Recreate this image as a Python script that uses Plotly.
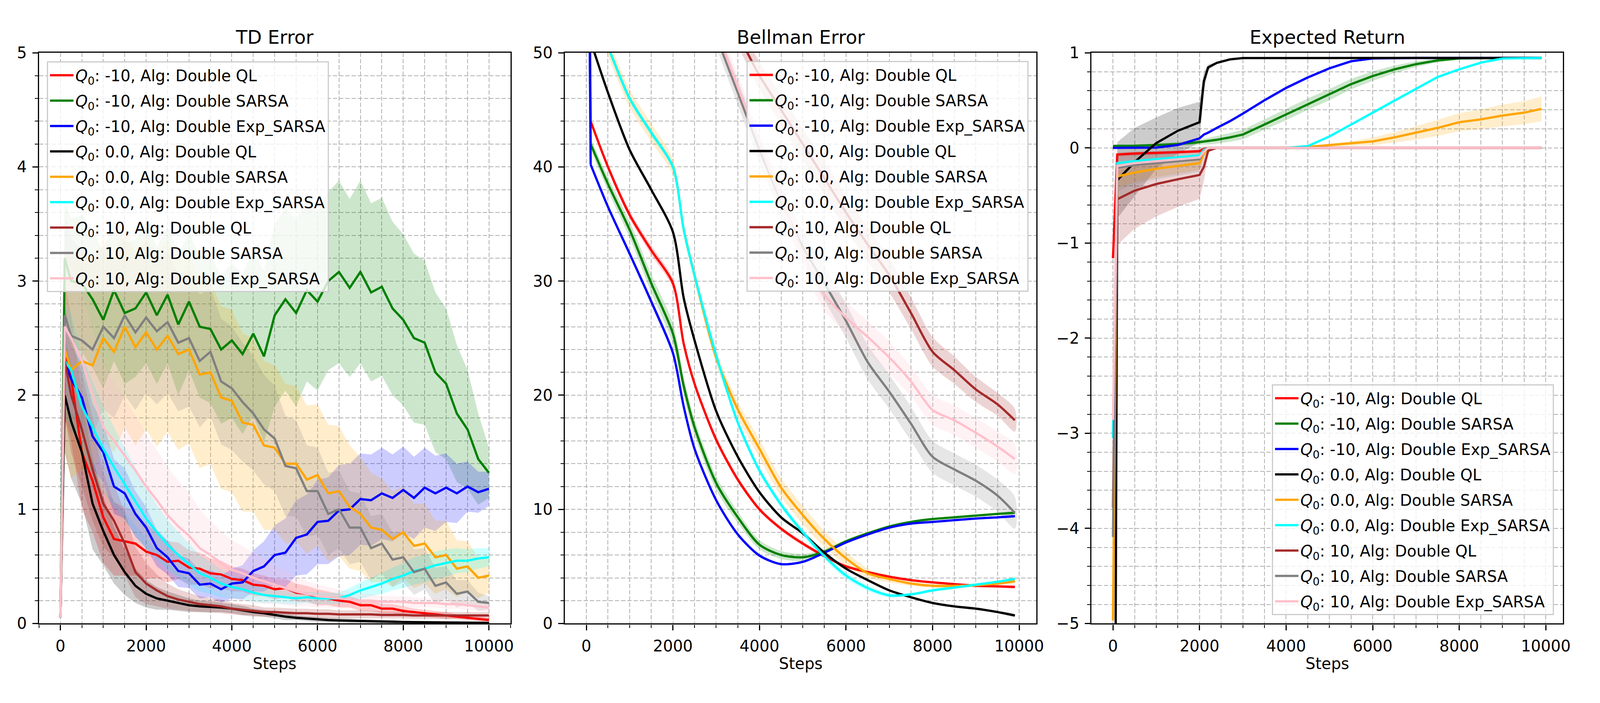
import numpy as np
import plotly.graph_objects as go

# ---------------- data ----------------
labels = [
    "<i>Q</i><sub>0</sub>: -10, Alg: Double QL",
    "<i>Q</i><sub>0</sub>: -10, Alg: Double SARSA",
    "<i>Q</i><sub>0</sub>: -10, Alg: Double Exp_SARSA",
    "<i>Q</i><sub>0</sub>: 0.0, Alg: Double QL",
    "<i>Q</i><sub>0</sub>: 0.0, Alg: Double SARSA",
    "<i>Q</i><sub>0</sub>: 0.0, Alg: Double Exp_SARSA",
    "<i>Q</i><sub>0</sub>: 10, Alg: Double QL",
    "<i>Q</i><sub>0</sub>: 10, Alg: Double SARSA",
    "<i>Q</i><sub>0</sub>: 10, Alg: Double Exp_SARSA",
]
colors = ["#ff0000", "#008000", "#0000ff", "#000000", "#ffa500",
          "#00ffff", "#a52a2a", "#808080", "#ffc0cb"]

# ---- TD Error ----
td_steps = [0, 100, 250, 500, 750, 1000, 1250, 1500, 1750, 2000, 2250, 2500, 2750,
            3000, 3250, 3500, 3750, 4000, 4250, 4500, 4750, 5000, 5250, 5500, 5750,
            6000, 6250, 6500, 6750, 7000, 7250, 7500, 7750, 8000, 8250, 8500, 8750,
            9000, 9250, 9500, 9750, 10000]
td_red = [0.05, 2.40, 2.15, 1.50, 1.25, 0.93, 0.74, 0.72, 0.70, 0.63, 0.60, 0.54, 0.55, 0.49,
          0.48, 0.44, 0.43, 0.39, 0.38, 0.34, 0.33, 0.30, 0.31, 0.27, 0.26, 0.23, 0.22, 0.20,
          0.19, 0.16, 0.16, 0.13, 0.13, 0.11, 0.10, 0.09, 0.08, 0.07, 0.06, 0.05, 0.04, 0.03]
td_green = [0.05, 3.20, 3.00, 2.98, 2.84, 2.66, 2.92, 2.72, 2.76, 2.90, 2.70, 2.88, 2.62, 2.82,
            2.60, 2.58, 2.40, 2.48, 2.36, 2.54, 2.34, 2.70, 2.84, 2.72, 2.92, 2.82, 3.00, 3.08,
            2.94, 3.08, 2.90, 2.95, 2.76, 2.66, 2.50, 2.46, 2.20, 2.10, 1.84, 1.70, 1.44, 1.32]
td_blue = [0.05, 2.30, 2.14, 1.98, 1.64, 1.50, 1.20, 1.14, 0.96, 0.84, 0.66, 0.58, 0.46, 0.44,
           0.34, 0.35, 0.30, 0.35, 0.36, 0.46, 0.50, 0.60, 0.62, 0.75, 0.78, 0.89, 0.90, 0.99,
           1.00, 1.09, 1.08, 1.14, 1.10, 1.17, 1.10, 1.19, 1.14, 1.19, 1.14, 1.20, 1.15, 1.18]
td_black = [0.05, 2.00, 1.77, 1.50, 1.05, 0.81, 0.60, 0.45, 0.33, 0.26, 0.22, 0.20, 0.18, 0.16,
            0.15, 0.145, 0.14, 0.13, 0.115, 0.10, 0.09, 0.075, 0.06, 0.05, 0.042, 0.035, 0.03,
            0.027, 0.024, 0.021, 0.019, 0.017, 0.015, 0.013, 0.012, 0.011, 0.010, 0.009, 0.008,
            0.007, 0.006, 0.005]
td_orange = [0.05, 2.40, 2.22, 2.30, 2.26, 2.50, 2.38, 2.60, 2.42, 2.55, 2.40, 2.52, 2.36, 2.40,
             2.18, 2.20, 1.98, 1.95, 1.76, 1.74, 1.56, 1.54, 1.40, 1.40, 1.26, 1.30, 1.14, 1.16,
             1.02, 0.96, 0.84, 0.82, 0.74, 0.80, 0.68, 0.70, 0.58, 0.60, 0.48, 0.50, 0.40, 0.42]
td_cyan = [0.08, 2.30, 2.22, 1.90, 1.72, 1.53, 1.37, 1.22, 1.07, 0.92, 0.80, 0.69, 0.60, 0.52,
           0.44, 0.40, 0.35, 0.32, 0.30, 0.27, 0.25, 0.24, 0.23, 0.22, 0.23, 0.22, 0.22, 0.22,
           0.25, 0.29, 0.32, 0.35, 0.39, 0.42, 0.46, 0.48, 0.51, 0.53, 0.55, 0.55, 0.57, 0.58]
td_brown = [0.05, 2.30, 2.00, 1.70, 1.35, 1.05, 0.90, 0.70, 0.45, 0.35, 0.29, 0.24, 0.21, 0.19,
            0.17, 0.16, 0.15, 0.13, 0.12, 0.11, 0.10, 0.10, 0.095, 0.09, 0.09, 0.085, 0.085,
            0.08, 0.08, 0.08, 0.08, 0.075, 0.075, 0.075, 0.07, 0.07, 0.07, 0.07, 0.07, 0.07,
            0.07, 0.07]
td_gray = [0.05, 2.70, 2.52, 2.48, 2.40, 2.60, 2.50, 2.70, 2.55, 2.68, 2.56, 2.64, 2.46, 2.50,
           2.30, 2.38, 2.12, 2.06, 1.94, 1.84, 1.70, 1.62, 1.38, 1.36, 1.16, 1.16, 0.96, 1.00,
           0.84, 0.84, 0.66, 0.70, 0.56, 0.58, 0.45, 0.48, 0.33, 0.36, 0.26, 0.28, 0.19, 0.18]
td_pink = [0.05, 2.60, 2.50, 2.30, 2.00, 1.72, 1.60, 1.47, 1.34, 1.20, 1.08, 0.95, 0.85, 0.77,
           0.66, 0.60, 0.53, 0.47, 0.44, 0.40, 0.37, 0.34, 0.31, 0.28, 0.26, 0.24, 0.23, 0.22,
           0.21, 0.20, 0.20, 0.19, 0.19, 0.19, 0.18, 0.18, 0.18, 0.17, 0.17, 0.16, 0.15, 0.14]

td_std_red = [0.0, 0.6, 0.55, 0.5, 0.45, 0.4, 0.32, 0.3, 0.28, 0.24, 0.2, 0.18, 0.16, 0.15, 0.14,
              0.13, 0.12, 0.11, 0.1, 0.1, 0.09, 0.09, 0.08, 0.08, 0.07, 0.07, 0.06, 0.06, 0.05,
              0.05, 0.05, 0.04, 0.04, 0.04, 0.03, 0.03, 0.03, 0.03, 0.02, 0.02, 0.02, 0.02]
td_std_green = [0.0, 0.5, 0.55, 0.6, 0.6, 0.6, 0.62, 0.62, 0.6, 0.62, 0.6, 0.6, 0.62, 0.6, 0.62,
                0.65, 0.65, 0.68, 0.7, 0.72, 0.75, 0.8, 0.8, 0.82, 0.8, 0.78, 0.78, 0.8, 0.78,
                0.8, 0.78, 0.78, 0.76, 0.75, 0.74, 0.72, 0.7, 0.66, 0.6, 0.52, 0.4, 0.22]
td_std_blue = [0.0, 0.3, 0.3, 0.3, 0.28, 0.26, 0.24, 0.22, 0.2, 0.18, 0.16, 0.15, 0.14, 0.13,
               0.12, 0.12, 0.12, 0.13, 0.15, 0.18, 0.22, 0.26, 0.3, 0.33, 0.35, 0.37, 0.38, 0.4,
               0.4, 0.4, 0.4, 0.4, 0.38, 0.38, 0.36, 0.35, 0.33, 0.3, 0.26, 0.22, 0.18, 0.15]
td_std_black = [0.0, 0.5, 0.5, 0.45, 0.4, 0.3, 0.25, 0.2, 0.15, 0.12, 0.1, 0.08, 0.07, 0.06,
                0.05, 0.05, 0.04, 0.04, 0.04, 0.03, 0.03, 0.03, 0.03, 0.02, 0.02, 0.02, 0.02,
                0.02, 0.02, 0.015, 0.015, 0.015, 0.015, 0.01, 0.01, 0.01, 0.01, 0.01, 0.01,
                0.01, 0.01, 0.01]
td_std_orange = [0.0, 0.9, 0.95, 0.95, 0.9, 0.9, 0.88, 0.88, 0.86, 0.85, 0.85, 0.84, 0.84, 0.82,
                 0.82, 0.8, 0.8, 0.8, 0.78, 0.76, 0.74, 0.72, 0.7, 0.68, 0.65, 0.62, 0.6, 0.57,
                 0.54, 0.5, 0.48, 0.45, 0.42, 0.4, 0.37, 0.35, 0.32, 0.3, 0.25, 0.22, 0.18, 0.15]
td_std_cyan = [0.0, 0.5, 0.5, 0.45, 0.4, 0.38, 0.35, 0.32, 0.3, 0.27, 0.24, 0.22, 0.2, 0.18,
               0.16, 0.14, 0.12, 0.1, 0.09, 0.08, 0.07, 0.06, 0.06, 0.05, 0.05, 0.05, 0.05, 0.05,
               0.06, 0.07, 0.08, 0.09, 0.1, 0.11, 0.12, 0.12, 0.12, 0.12, 0.11, 0.1, 0.09, 0.08]
td_std_brown = [0.0, 0.5, 0.5, 0.5, 0.45, 0.38, 0.32, 0.28, 0.22, 0.18, 0.14, 0.11, 0.09, 0.08,
                0.07, 0.06, 0.06, 0.05, 0.05, 0.05, 0.04, 0.04, 0.04, 0.04, 0.04, 0.04, 0.04,
                0.035, 0.035, 0.035, 0.035, 0.03, 0.03, 0.03, 0.03, 0.03, 0.03, 0.03, 0.03,
                0.03, 0.03, 0.03]
td_std_gray = [0.0, 0.9, 0.85, 0.8, 0.75, 0.72, 0.7, 0.7, 0.68, 0.66, 0.64, 0.62, 0.6, 0.6,
               0.58, 0.56, 0.55, 0.54, 0.52, 0.5, 0.48, 0.46, 0.44, 0.42, 0.4, 0.38, 0.36, 0.34,
               0.32, 0.3, 0.28, 0.26, 0.24, 0.22, 0.2, 0.18, 0.16, 0.14, 0.12, 0.1, 0.08, 0.06]
td_std_pink = [0.0, 0.7, 0.65, 0.6, 0.58, 0.55, 0.52, 0.5, 0.48, 0.46, 0.44, 0.42, 0.4, 0.38,
               0.34, 0.3, 0.28, 0.26, 0.24, 0.22, 0.2, 0.17, 0.15, 0.13, 0.11, 0.1, 0.09, 0.08,
               0.07, 0.06, 0.06, 0.05, 0.05, 0.05, 0.05, 0.04, 0.04, 0.04, 0.04, 0.04, 0.04, 0.04]

# ---- Bellman Error ----
be_steps = [0, 100, 500, 1000, 1500, 2000, 2250, 2500, 3000, 3500, 4000, 4500, 5000, 5500,
            6000, 6500, 7000, 7500, 8000, 8500, 9000, 9500, 9900]
be_red = [90, 44, 40, 35.8, 32.7, 29.8, 24.5, 21.0, 16.1, 12.6, 10.0, 8.3, 7.0, 5.9, 5.0, 4.5,
          4.1, 3.8, 3.6, 3.45, 3.3, 3.25, 3.2]
be_green = [90, 42, 38.5, 34.5, 29.8, 25.4, 20.8, 17.2, 12.3, 9.3, 6.9, 6.0, 5.8, 6.3, 7.2,
            7.9, 8.5, 8.9, 9.15, 9.3, 9.45, 9.6, 9.7]
be_blue = [90, 40.2, 36.5, 32.4, 28.2, 23.7, 19.0, 15.3, 10.8, 7.8, 5.95, 5.2, 5.4, 6.2, 7.1,
           7.8, 8.4, 8.75, 8.9, 9.05, 9.2, 9.3, 9.4]
be_black = [90, 51, 46.5, 41.5, 38, 34.3, 28.5, 24.8, 18.6, 14.6, 11.5, 9.3, 7.9, 6.2, 4.8,
            3.8, 2.9, 2.3, 1.8, 1.5, 1.3, 1.0, 0.7]
be_orange = [90, 54, 50.5, 46.0, 43, 40.0, 34.5, 30.5, 23.3, 18.75, 15.3, 11.9, 9.5, 7.4, 5.7,
             4.4, 3.9, 3.5, 3.3, 3.3, 3.35, 3.5, 3.7]
be_cyan = [90, 54, 50.5, 46.0, 43, 40.0, 34.5, 30.5, 23.5, 17.6, 13.4, 10.4, 8.0, 5.9, 4.2,
           3.1, 2.46, 2.55, 2.9, 3.15, 3.4, 3.65, 3.9]
be_brown = [120, 85, 80, 74, 68, 63, 60, 58, 54, 51.5, 48.0, 45.0, 42.0, 39.0, 36.0, 33.2,
            30.5, 27.2, 23.8, 22.2, 20.5, 19.2, 17.8]
be_gray = [120, 85, 80, 74, 68, 62, 59, 57, 51.5, 46.5, 41.5, 37, 33, 29.8, 26.5, 22.9, 20.3,
           17.5, 14.6, 13.5, 12.5, 11.2, 9.7]
be_pink = [120, 85, 80, 74, 68, 62, 59, 57, 52, 47, 42, 37.2, 32.5, 28.8, 26.8, 25.1, 23.3,
           21.2, 18.7, 17.8, 16.7, 15.5, 14.4]

be_std_red = [0, 0.3, 0.3, 0.35, 0.4, 0.4, 0.35, 0.3, 0.3, 0.25, 0.2, 0.2, 0.2, 0.15, 0.15,
              0.1, 0.1, 0.1, 0.1, 0.1, 0.1, 0.1, 0.1]
be_std_green = [0, 0.5, 0.6, 0.7, 0.8, 0.9, 0.8, 0.7, 0.6, 0.5, 0.4, 0.35, 0.3, 0.2, 0.15,
                0.1, 0.1, 0.1, 0.1, 0.1, 0.1, 0.1, 0.1]
be_std_blue = [0, 0.2, 0.2, 0.25, 0.3, 0.3, 0.3, 0.25, 0.2, 0.15, 0.15, 0.1, 0.1, 0.1, 0.1,
               0.1, 0.1, 0.1, 0.1, 0.1, 0.1, 0.1, 0.1]
be_std_black = [0, 0.2, 0.2, 0.2, 0.2, 0.2, 0.2, 0.2, 0.2, 0.15, 0.15, 0.15, 0.1, 0.1, 0.1,
                0.1, 0.1, 0.1, 0.1, 0.1, 0.1, 0.1, 0.1]
be_std_orange = [0, 0.8, 0.8, 0.8, 0.8, 0.7, 0.6, 0.6, 0.6, 0.7, 0.8, 0.8, 0.8, 0.7, 0.6, 0.4,
                 0.3, 0.2, 0.15, 0.15, 0.15, 0.15, 0.15]
be_std_cyan = [0, 0.3, 0.3, 0.3, 0.3, 0.3, 0.3, 0.3, 0.3, 0.3, 0.3, 0.3, 0.3, 0.3, 0.3, 0.25,
               0.2, 0.15, 0.15, 0.15, 0.15, 0.15, 0.15]
be_std_brown = [0, 1, 1, 1, 1, 1, 1, 1, 1, 1, 1.2, 1.3, 1.4, 1.5, 1.5, 1.5, 1.5, 1.4, 1.3, 1.2,
                1.1, 1.0, 1.0]
be_std_gray = [0, 1, 1, 1, 1, 1, 1, 1, 1, 1.1, 1.2, 1.3, 1.4, 1.5, 1.5, 1.5, 1.5, 1.5, 1.4,
               1.4, 1.4, 1.4, 1.4]
be_std_pink = [0, 1, 1, 1, 1, 1, 1, 1, 1, 1.1, 1.2, 1.3, 1.3, 1.4, 1.4, 1.4, 1.4, 1.3, 1.3,
               1.3, 1.3, 1.3, 1.3]

# ---- Expected Return ----
er_steps = [0, 100, 500, 1000, 1500, 2000, 2100, 2200, 2400, 2700, 3000, 3500, 4000, 4500,
            5000, 5500, 6000, 6500, 7000, 7500, 8000, 8500, 9000, 9500, 9900]
er_red = [-1.16, -0.07, -0.06, -0.055, -0.045, -0.035, -0.01, 0.0, 0.0, 0.0, 0.0, 0.0, 0.0,
          0.0, 0.0, 0.0, 0.0, 0.0, 0.0, 0.0, 0.0, 0.0, 0.0, 0.0, 0.0]
er_green = [0.02, 0.02, 0.022, 0.03, 0.04, 0.06, 0.065, 0.07, 0.085, 0.11, 0.14, 0.245, 0.35,
            0.46, 0.56, 0.67, 0.755, 0.825, 0.88, 0.92, 0.94, 0.945, 0.945, 0.945, 0.945]
er_blue = [0.0, 0.0, 0.0, 0.003, 0.03, 0.10, 0.14, 0.16, 0.21, 0.28, 0.36, 0.50, 0.63, 0.74,
           0.836, 0.91, 0.94, 0.945, 0.945, 0.945, 0.945, 0.945, 0.945, 0.945, 0.945]
er_black = [-13.0, -0.34, -0.15, 0.05, 0.18, 0.27, 0.70, 0.846, 0.894, 0.93, 0.944, 0.945,
            0.945, 0.945, 0.945, 0.945, 0.945, 0.945, 0.945, 0.945, 0.945, 0.945, 0.945,
            0.945, 0.945]
er_orange = [-4.97, -0.30, -0.26, -0.22, -0.19, -0.16, -0.06, 0.0, 0.0, 0.0, 0.0, 0.0, 0.0,
             0.01, 0.03, 0.045, 0.068, 0.11, 0.157, 0.21, 0.27, 0.30, 0.34, 0.37, 0.41]
er_cyan = [-3.05, -0.16, -0.14, -0.12, -0.10, -0.08, -0.02, 0.0, 0.0, 0.0, 0.0, 0.0, 0.0,
           0.018, 0.12, 0.245, 0.37, 0.50, 0.62, 0.745, 0.826, 0.896, 0.94, 0.945, 0.945]
er_brown = [-3.78, -0.54, -0.45, -0.38, -0.33, -0.285, -0.2, -0.03, 0.0, 0.0, 0.0, 0.0, 0.0,
            0.0, 0.0, 0.0, 0.0, 0.0, 0.0, 0.0, 0.0, 0.0, 0.0, 0.0, 0.0]
er_gray = [-4.09, -0.21, -0.18, -0.16, -0.14, -0.12, -0.03, 0.0, 0.0, 0.0, 0.0, 0.0, 0.0, 0.0,
           0.0, 0.0, 0.0, 0.0, 0.0, 0.0, 0.0, 0.0, 0.0, 0.0, 0.0]
er_pink = [-2.86, -0.19, -0.16, -0.14, -0.12, -0.10, -0.04, 0.0, 0.0, 0.0, 0.0, 0.0, 0.0, 0.0,
           0.0, 0.0, 0.0, 0.0, 0.0, 0.0, 0.0, 0.0, 0.0, 0.0, 0.0]

er_std_red = [0.0, 0.02, 0.02, 0.02, 0.02, 0.02, 0.01, 0, 0, 0, 0, 0, 0, 0, 0, 0, 0, 0, 0, 0,
              0, 0, 0, 0, 0]
er_std_green = [0, 0.01, 0.01, 0.015, 0.02, 0.03, 0.03, 0.035, 0.04, 0.045, 0.05, 0.055, 0.06,
                0.06, 0.06, 0.055, 0.05, 0.04, 0.03, 0.02, 0.01, 0.005, 0, 0, 0]
er_std_blue = [0, 0, 0, 0, 0.005, 0.01, 0.01, 0.01, 0.015, 0.015, 0.015, 0.015, 0.015, 0.015,
               0.01, 0.01, 0.005, 0, 0, 0, 0, 0, 0, 0, 0]
er_std_black = [0, 0.4, 0.36, 0.27, 0.24, 0.215, 0.1, 0.03, 0.01, 0.005, 0, 0, 0, 0, 0, 0, 0,
                0, 0, 0, 0, 0, 0, 0, 0]
er_std_orange = [0, 0.12, 0.1, 0.09, 0.08, 0.07, 0.03, 0, 0, 0, 0, 0, 0, 0.005, 0.015, 0.025,
                 0.04, 0.055, 0.07, 0.085, 0.095, 0.105, 0.115, 0.12, 0.13]
er_std_cyan = [0, 0.02, 0.02, 0.02, 0.02, 0.02, 0.01, 0, 0, 0, 0, 0, 0, 0.005, 0.01, 0.012,
               0.015, 0.015, 0.015, 0.012, 0.01, 0.008, 0.005, 0, 0]
er_std_brown = [0, 0.48, 0.4, 0.34, 0.29, 0.25, 0.15, 0.02, 0, 0, 0, 0, 0, 0, 0, 0, 0, 0, 0,
                0, 0, 0, 0, 0, 0]
er_std_gray = [0, 0.25, 0.2, 0.17, 0.15, 0.13, 0.05, 0, 0, 0, 0, 0, 0, 0, 0, 0, 0, 0, 0, 0, 0,
               0, 0, 0, 0]
er_std_pink = [3.33, 0.05, 0.04, 0.03, 0.03, 0.03, 0.01, 0, 0, 0, 0, 0, 0, 0, 0, 0, 0, 0, 0,
               0, 0, 0, 0, 0, 0]

panel_titles = ["TD Error", "Bellman Error", "Expected Return"]
x_title = "Steps"

panels = [
    (td_steps,
     [td_red, td_green, td_blue, td_black, td_orange, td_cyan, td_brown, td_gray, td_pink],
     [td_std_red, td_std_green, td_std_blue, td_std_black, td_std_orange, td_std_cyan,
      td_std_brown, td_std_gray, td_std_pink]),
    (be_steps,
     [be_red, be_green, be_blue, be_black, be_orange, be_cyan, be_brown, be_gray, be_pink],
     [be_std_red, be_std_green, be_std_blue, be_std_black, be_std_orange, be_std_cyan,
      be_std_brown, be_std_gray, be_std_pink]),
    (er_steps,
     [er_red, er_green, er_blue, er_black, er_orange, er_cyan, er_brown, er_gray, er_pink],
     [er_std_red, er_std_green, er_std_blue, er_std_black, er_std_orange, er_std_cyan,
      er_std_brown, er_std_gray, er_std_pink]),
]
# the Bellman-error curves are smooth: draw them as splines from step 100 onwards
smooth_panel = [False, True, False]

# ---------------- figure ----------------
# the visible browser area is about 4090 x 1800 css px, so the figure is sized to fit it
W, H = 4070, 1780
RW, RH = 4410.0, 1800.0          # reference geometry (pixels measured on the reference)
FONT = "DejaVu Sans"
FS = 40
LW = 5.8
fig = go.Figure()


def rgba(hex_color, a):
    h = hex_color.lstrip("#")
    r, g, b = int(h[0:2], 16), int(h[2:4], 16), int(h[4:6], 16)
    return f"rgba({r},{g},{b},{a})"


legend_names = ["legend", "legend2", "legend3"]
for p, (steps, means, stds) in enumerate(panels):
    xa = "x" if p == 0 else f"x{p + 1}"
    ya = "y" if p == 0 else f"y{p + 1}"
    smooth = smooth_panel[p]
    start = 1 if smooth else 0
    xs = list(steps)[start:]
    shape = "spline" if smooth else "linear"
    for i in range(9):
        m = np.array(means[i], dtype=float)[start:]
        s = np.array(stds[i], dtype=float)[start:]
        up = m + s
        lo = m - s
        fig.add_trace(go.Scatter(
            x=xs + xs[::-1], y=list(up) + list(lo[::-1]),
            xaxis=xa, yaxis=ya, mode="lines", fill="toself",
            fillcolor=rgba(colors[i], 0.2),
            line=dict(width=0, shape=shape, smoothing=0.8),
            hoverinfo="skip", showlegend=False))
    for i in range(9):
        if smooth:
            # first segment (step 0 -> 100) is a straight drop
            fig.add_trace(go.Scatter(
                x=list(steps)[:2], y=list(means[i])[:2], xaxis=xa, yaxis=ya, mode="lines",
                line=dict(color=colors[i], width=LW), hoverinfo="skip",
                showlegend=False, legendgroup=f"p{p}_{i}", legend=legend_names[p]))
        fig.add_trace(go.Scatter(
            x=xs, y=list(means[i])[start:], xaxis=xa, yaxis=ya, mode="lines",
            line=dict(color=colors[i], width=LW, shape=shape, smoothing=0.8),
            name=labels[i], legend=legend_names[p],
            legendgroup=f"p{p}_{i}", showlegend=True))

xdom = [(100, 1414), (1566, 2880), (3034, 4348)]
ytop, ybot = 108, 1625
ydom = [1 - ybot / RH, 1 - ytop / RH]
xranges = [[-500, 10500], [-495, 10395], [-495, 10395]]
yranges = [[0, 5], [0, 50], [-5, 1]]
ydticks = [1, 10, 1]
yminor = [0.2, 2, 0.2]

GRID = "#b0b0b0"
DASH = "11px,5px"
layout = dict(
    width=W, height=H, margin=dict(l=0, r=0, t=0, b=0),
    paper_bgcolor="white", plot_bgcolor="white",
    font=dict(family=FONT, size=FS, color="black"),
    showlegend=True,
)
for p in range(3):
    xk = "xaxis" if p == 0 else f"xaxis{p + 1}"
    yk = "yaxis" if p == 0 else f"yaxis{p + 1}"
    anchor_y = "y" if p == 0 else f"y{p + 1}"
    anchor_x = "x" if p == 0 else f"x{p + 1}"
    common = dict(
        showline=True, mirror=True, linecolor="black", linewidth=3.2,
        ticks="outside", ticklen=14, tickwidth=3.2, tickcolor="black",
        showgrid=True, gridcolor=GRID, gridwidth=2.4, griddash=DASH,
        zeroline=False, ticklabelstandoff=6,
        tickfont=dict(family=FONT, size=FS, color="black"),
    )
    layout[xk] = dict(
        common, domain=[xdom[p][0] / RW, xdom[p][1] / RW], anchor=anchor_y,
        range=xranges[p], tick0=0, dtick=2000, tickformat="d",
        minor=dict(dtick=500, tick0=0, ticks="outside", ticklen=8, tickwidth=2.4,
                   tickcolor="black", showgrid=True, gridcolor=GRID, gridwidth=2.4,
                   griddash=DASH),
    )
    layout[yk] = dict(
        common, domain=ydom, anchor=anchor_x,
        range=yranges[p], tick0=0, dtick=ydticks[p],
        minor=dict(dtick=yminor[p], tick0=0, ticks="outside", ticklen=8, tickwidth=2.4,
                   tickcolor="black", showgrid=True, gridcolor=GRID, gridwidth=2.4,
                   griddash=DASH),
    )

leg_common = dict(
    bgcolor="rgba(255,255,255,0.8)", bordercolor="#cccccc", borderwidth=3,
    font=dict(family=FONT, size=FS, color="black"),
    traceorder="grouped", tracegroupgap=10, itemwidth=60,
)
layout["legend"] = dict(leg_common, x=122 / RW, y=1 - 131 / RH, xanchor="left", yanchor="top")
layout["legend2"] = dict(leg_common, x=2858 / RW, y=1 - 130 / RH, xanchor="right",
                         yanchor="top")
layout["legend3"] = dict(leg_common, x=4323 / RW, y=1 - 1603 / RH, xanchor="right",
                         yanchor="bottom")

annotations = []
for p in range(3):
    cx = (xdom[p][0] + xdom[p][1]) / 2 / RW
    annotations.append(dict(
        text=panel_titles[p], x=cx, y=1 - 66 / RH, xref="paper", yref="paper",
        xanchor="center", yanchor="middle", showarrow=False,
        font=dict(family=FONT, size=48, color="black")))
    annotations.append(dict(
        text=x_title, x=cx, y=1 - 1732 / RH, xref="paper", yref="paper",
        xanchor="center", yanchor="middle", showarrow=False,
        font=dict(family=FONT, size=FS, color="black")))
layout["annotations"] = annotations

fig.update_layout(**layout)
fig.write_html("out.html")
